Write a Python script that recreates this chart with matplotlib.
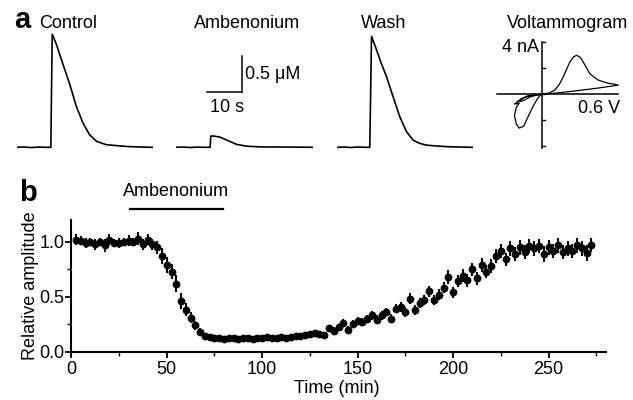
import matplotlib
matplotlib.use("Agg")
import matplotlib.pyplot as plt
from matplotlib.ticker import MultipleLocator

plt.rcParams['font.family'] = ['Liberation Sans', 'DejaVu Sans']

W, H = 633, 400

# ---------------- Panel a data ----------------
control_t = [0, 2, 4, 6, 8, 9.7, 10.1, 11.3, 13.2, 15.1, 17.0, 18.9, 20.8, 22.8, 25.6,
             28.9, 32, 36, 39]
control_uM = [0.0, 0.005, -0.004, 0.003, 0.0, 0.0, 1.57, 1.43, 1.15, 0.88, 0.57, 0.34,
              0.175, 0.083, 0.036, 0.022, 0.01, 0.003, 0.0]
amben_t = [0, 2, 4, 6, 8, 9.7, 9.9, 11, 12.6, 14, 15.4, 17.3, 20.2, 24, 28, 32, 36, 39]
amben_uM = [0.0, 0.004, -0.003, 0.003, 0.0, 0.0, 0.157, 0.155, 0.14, 0.11, 0.08, 0.04,
            0.015, 0.006, 0.004, 0.003, 0.002, 0.0]
wash_t = [0, 2, 4, 6, 8, 9.4, 9.9, 11.0, 12.6, 14.2, 16.1, 18.0, 19.9, 21.8, 23.7, 25.6,
          28.5, 32, 36, 39]
wash_uM = [0.0, 0.004, -0.003, 0.004, 0.0, 0.0, 1.54, 1.40, 1.18, 0.98, 0.70, 0.425,
           0.22, 0.10, 0.055, 0.03, 0.018, 0.008, 0.003, 0.0]

# Voltammogram (V, nA)
volt_fwd_V = [0.0, 0.08, 0.14, 0.19, 0.23, 0.27, 0.30, 0.34, 0.37, 0.41, 0.44, 0.48,
              0.51, 0.56, 0.60, 0.66, 0.71, 0.77, 0.81]
volt_fwd_nA = [0.0, 0.1, 0.33, 0.8, 1.35, 2.0, 2.5, 2.88, 3.0, 2.85, 2.5, 2.0,
               1.6, 1.3, 1.1, 0.95, 0.85, 0.78, 0.7]
volt_ret_V = [0.81, 0.6, 0.4, 0.2, 0.1, 0.0]
volt_ret_nA = [0.7, 0.48, 0.3, 0.13, 0.06, 0.0]
volt_neg_V = [0.0, -0.08, -0.15, -0.22, -0.29, -0.24, -0.27, -0.29, -0.27, -0.24,
              -0.19, -0.17, -0.13, -0.09, -0.05, -0.02, 0.0]
volt_neg_nA = [0.0, -0.03, -0.12, -0.35, -0.75, -0.70, -1.0, -1.6, -2.3, -2.6,
               -2.45, -2.1, -1.5, -0.9, -0.4, -0.1, 0.0]
volt_inner_V = [0.0, -0.1, -0.18, -0.25, -0.2, -0.12, -0.05, 0.0]
volt_inner_nA = [0.0, -0.08, -0.25, -0.6, -0.5, -0.2, -0.06, 0.0]

# ---------------- Panel b data ----------------
time_min = [2.5, 5, 7.5, 10, 12.5, 15, 17.5, 20, 22.5, 25, 27.5, 30, 32.5, 35, 37.5, 40,
            42.5, 45, 47.5, 50, 52.5, 55, 57.5, 60, 62.5, 65, 67.5, 70, 72.5, 75, 77.5,
            80, 82.5, 85, 87.5, 90, 92.5, 95, 97.5, 100, 102.5, 105, 107.5, 110, 112.5,
            115, 117.5, 120, 122.5, 125, 127.5, 130, 132.5, 135, 137.5, 140, 142.5, 145,
            147.5, 150, 152.5, 155, 157.5, 160, 162.5, 165, 167.5, 170, 172.5, 175, 177.5,
            180, 182.5, 185, 187.5, 190, 192.5, 195, 197.5, 200, 202.5, 205, 207.5, 210,
            212.5, 215, 217.5, 220, 222.5, 225, 227.5, 230, 232.5, 235, 237.5, 240, 242.5,
            245, 247.5, 250, 252.5, 255, 257.5, 260, 262.5, 265, 267.5, 270, 272.5]
rel_amp = [1.02, 1.01, 0.99, 1.00, 0.98, 1.00, 0.97, 1.02, 0.99, 0.99, 1.00, 1.01, 1.00,
           1.03, 0.98, 1.02, 0.98,
           0.95, 0.87, 0.79, 0.73, 0.62, 0.46, 0.38, 0.31, 0.24, 0.18, 0.14, 0.13, 0.12,
           0.12, 0.11, 0.12, 0.12, 0.11, 0.12, 0.12, 0.11, 0.12, 0.12, 0.13, 0.12, 0.12,
           0.13, 0.12, 0.13, 0.14,
           0.14, 0.15, 0.16, 0.17, 0.16, 0.15, 0.21, 0.19, 0.22, 0.26,
           0.20, 0.25, 0.28, 0.27, 0.30, 0.33, 0.29, 0.33, 0.36, 0.30,
           0.39, 0.41, 0.36, 0.48, 0.38, 0.44, 0.47, 0.55, 0.47, 0.52,
           0.58, 0.68, 0.54, 0.64, 0.69, 0.65, 0.75, 0.67, 0.79, 0.73,
           0.78, 0.87, 0.92, 0.84, 0.94, 0.89, 0.95, 0.91, 0.96, 0.94,
           0.96, 0.89, 0.95, 0.92, 0.97, 0.91, 0.94, 0.92, 0.97, 0.94,
           0.90, 0.97]
rel_err = [0.05, 0.04, 0.05, 0.04, 0.05, 0.04, 0.06, 0.05, 0.04, 0.05, 0.04, 0.05, 0.04,
           0.06, 0.05, 0.05, 0.05,
           0.06, 0.07, 0.07, 0.07, 0.08, 0.07, 0.06, 0.05, 0.04, 0.03, 0.03, 0.025, 0.02,
           0.02, 0.02, 0.02, 0.015, 0.02, 0.02, 0.02, 0.02, 0.015, 0.02, 0.02, 0.02, 0.02,
           0.02, 0.02, 0.02, 0.02,
           0.02, 0.02, 0.025, 0.025, 0.025, 0.025, 0.03, 0.03, 0.03, 0.035,
           0.03, 0.035, 0.035, 0.035, 0.035, 0.04, 0.04, 0.04, 0.04, 0.04,
           0.04, 0.045, 0.045, 0.05, 0.045, 0.045, 0.05, 0.05, 0.05, 0.05,
           0.05, 0.06, 0.05, 0.055, 0.06, 0.06, 0.06, 0.06, 0.06, 0.06,
           0.06, 0.065, 0.065, 0.06, 0.065, 0.065, 0.065, 0.065, 0.065, 0.065,
           0.065, 0.07, 0.065, 0.065, 0.07, 0.065, 0.065, 0.065, 0.07, 0.065,
           0.07, 0.065]
drug_on, drug_off = 30.5, 79.5
x_ticks = [0, 50, 100, 150, 200, 250]
y_ticks = [0.0, 0.5, 1.0]

fig = plt.figure(figsize=(W / 100, H / 100), dpi=100)


def px_axes(x0, y0, x1, y1):
    """axes from pixel box (top-left origin)"""
    return fig.add_axes([x0 / W, 1 - y1 / H, (x1 - x0) / W, (y1 - y0) / H])


# ---- traces ----
trace_ylim = (-(150 - 147.3) / 72, (147.3 - 30) / 72)
for (x0, x1, tt, data, title, tx) in [(17, 153, control_t, control_uM, 'Control', 68),
                                      (176, 313, amben_t, amben_uM, 'Ambenonium', 247.5),
                                      (337, 473, wash_t, wash_uM, 'Wash', 383.5)]:
    a = px_axes(x0, 30, x1, 150)
    a.plot(tt, data, color='black', lw=1.2)
    a.set_xlim(0, 39)
    a.set_ylim(*trace_ylim)
    a.axis('off')
    fig.text(tx / W, 1 - 24 / H, title, ha='center', va='center', fontsize=13)
    if title == 'Ambenonium':
        a.plot([18.9, 18.9], [0.764, 1.264], color='black', lw=1.1, clip_on=False)
        a.plot([8.9, 18.9], [0.764, 0.764], color='black', lw=1.1, clip_on=False)
        a.text(19.7, 1.01, '0.5 μM', ha='left', va='center', fontsize=13)
        a.text(14.5, 0.55, '10 s', ha='center', va='center', fontsize=13)

fig.text(22 / W, 1 - 20 / H, 'a', ha='center', va='center', fontsize=21, fontweight='bold')
fig.text(28 / W, 1 - 193 / H, 'b', ha='center', va='center', fontsize=21, fontweight='bold')

# ---- voltammogram ----
va_ = px_axes(490, 38, 630, 155)
va_.set_xlim((490 - 541.7) / 94, (630 - 541.7) / 94)
va_.set_ylim((94.3 - 155) / 13, (94.3 - 38) / 13)
va_.axis('off')
va_.plot([-0.475, 0.81], [0, 0], color='black', lw=1.1)
va_.plot([0, 0], [-4.1, 4.0], color='black', lw=1.1)
for tk in [4, 2, 0, -2, -4]:
    va_.plot([0, 0.035], [tk, tk], color='black', lw=1.0)
va_.plot(volt_fwd_V, volt_fwd_nA, color='black', lw=0.9)
va_.plot(volt_ret_V, volt_ret_nA, color='black', lw=0.9)
va_.plot(volt_neg_V, volt_neg_nA, color='black', lw=0.9)
va_.plot(volt_inner_V, volt_inner_nA, color='black', lw=0.8)
va_.text(-0.03, 3.58, '4 nA', ha='right', va='center', fontsize=13)
va_.text(0.61, -1.08, '0.6 V', ha='center', va='center', fontsize=13)
fig.text(568 / W, 1 - 24 / H, 'Voltammogram', ha='center', va='center', fontsize=13)

# ---- panel b ----
ax = px_axes(71.3, 220, 605.8, 351.5)
ax.errorbar(time_min, rel_amp, yerr=rel_err, fmt='o', color='black', ms=4.6,
            elinewidth=1.5, capsize=0, clip_on=False)
ax.set_xlim(0, 280)
ax.set_ylim(0, 1.2)
for s in ['top', 'right']:
    ax.spines[s].set_visible(False)
for s in ['left', 'bottom']:
    ax.spines[s].set_linewidth(1.5)
ax.set_xticks(x_ticks)
ax.set_yticks(y_ticks)
ax.set_yticklabels(['0.0', '0.5', '1.0'])
ax.xaxis.set_minor_locator(MultipleLocator(25))
ax.yaxis.set_minor_locator(MultipleLocator(0.25))
ax.tick_params(axis='both', which='major', length=4, width=1.3, labelsize=13, direction='out')
ax.tick_params(axis='x', which='major', pad=3)
ax.tick_params(axis='y', which='major', pad=1)
ax.tick_params(axis='both', which='minor', length=3, width=1.0, direction='out')
ax.set_xlabel('Time (min)', fontsize=13, va='center')
ax.set_ylabel('Relative amplitude', fontsize=13, va='center')
ax.xaxis.set_label_coords(0.497, -0.285)
ax.yaxis.set_label_coords(-0.077, 0.5)
ax.plot([drug_on, drug_off], [1.30, 1.30], color='black', lw=1.6, clip_on=False)
ax.text((drug_on + drug_off) / 2, 1.46, 'Ambenonium', ha='center', va='center', fontsize=13)

fig.savefig('out.png', dpi=100)
